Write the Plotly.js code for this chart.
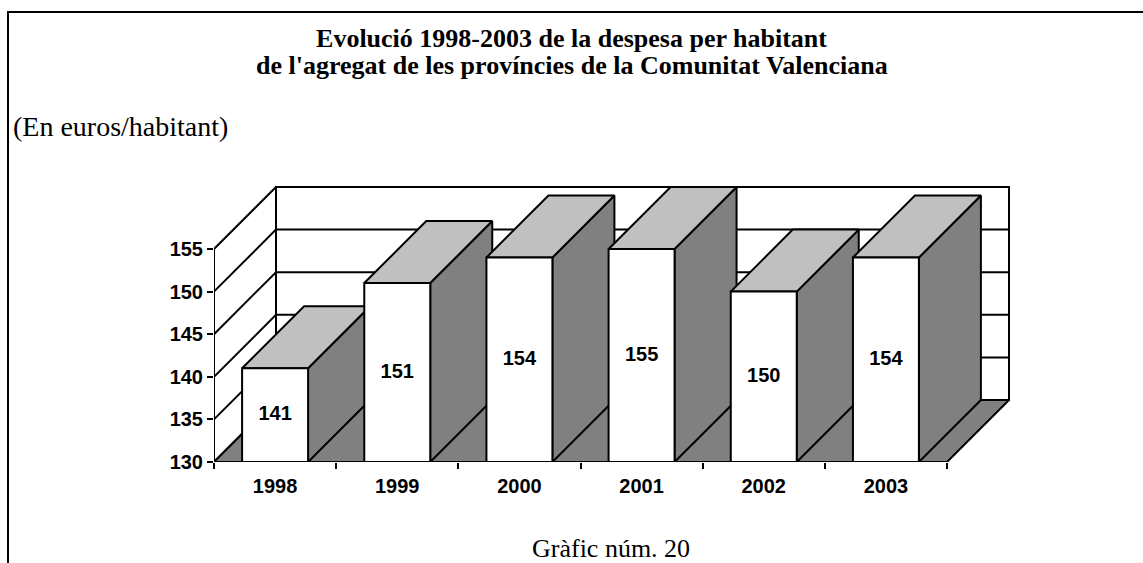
<!DOCTYPE html>
<html>
<head>
<meta charset="utf-8">
<script src="https://cdn.plot.ly/plotly-3.0.1.min.js"></script>
<style>
  html, body { margin: 0; padding: 0; background: #fff; }
  #wrap { position: relative; width: 1143px; height: 563px; overflow: hidden; }
  #chart { position: absolute; left: 0; top: 0; width: 1143px; height: 563px; }
  #frame { position: absolute; left: 7px; top: 11px; width: 1200px; height: 700px;
           border-top: 2px solid #000; border-left: 2px solid #000; pointer-events: none; }
</style>
</head>
<body>
<div id="wrap"><div id="chart"></div><div id="frame"></div></div>
<script>
// ---- data ----
const years = ['1998', '1999', '2000', '2001', '2002', '2003'];
const values = [141, 151, 154, 155, 150, 154];
const yTicks = [130, 135, 140, 145, 150, 155];
const titleLine1 = "Evolució 1998-2003 de la despesa per habitant";
const titleLine2 = "de l'agregat de les províncies de la Comunitat Valenciana";
const unitText = "(En euros/habitant)";
const footText = "Gràfic núm. 20";

// ---- layout geometry ----
const W = 1143, H = 563;
const M = { l: 214, r: 133, t: 185, b: 101 };
const plotW = W - M.l - M.r, plotH = H - M.t - M.b;
const pxPerCat = 733 / years.length;
const yMin = yTicks[0], yTop = yTicks[yTicks.length - 1];
const pxPerUnit = 213 / (yTop - yMin);
const xRange = [-0.5, -0.5 + plotW / pxPerCat];
const yRange = [yMin, yMin + plotH / pxPerUnit];
const depthPx = 62;
const dx = depthPx / pxPerCat, dy = depthPx / pxPerUnit;
const bw = 0.54, hw = bw / 2;
const xL = -0.5, xR = years.length - 0.5;

const SIDE = '#808080', TOP = '#c0c0c0', FRONT = '#ffffff';
const LINE = { color: '#000', width: 2 };

function poly(xs, ys, fill) {
  return { type: 'scatter', mode: 'lines', x: xs.concat([xs[0]]), y: ys.concat([ys[0]]),
           fill: 'toself', fillcolor: fill, line: LINE, cliponaxis: false,
           hoverinfo: 'skip', showlegend: false, xaxis: 'x', yaxis: 'y' };
}

const traces = [];
// left wall
traces.push(poly([xL, xL, xL + dx, xL + dx], [yMin, yTop, yTop + dy, yMin + dy], '#fff'));
// back wall
traces.push(poly([xL + dx, xL + dx, xR + dx, xR + dx], [yMin + dy, yTop + dy, yTop + dy, yMin + dy], '#fff'));
// gridlines
const gx = [], gy = [];
yTicks.slice(1, -1).forEach(L => {
  gx.push(xL, xL + dx, xR + dx, null);
  gy.push(L, L + dy, L + dy, null);
});
traces.push({ type: 'scatter', mode: 'lines', x: gx, y: gy, line: LINE, cliponaxis: false,
              hoverinfo: 'skip', showlegend: false, connectgaps: false });
// floor
traces.push(poly([xL, xR, xR + dx, xL + dx], [yMin, yMin, yMin + dy, yMin + dy], SIDE));

// bars: side, top, front for each
values.forEach((v, i) => {
  const a = i - hw, b = i + hw;
  traces.push(poly([b, b, b + dx, b + dx], [yMin, v, v + dy, yMin + dy], SIDE));
  traces.push(poly([a, b, b + dx, a + dx], [v, v, v + dy, v + dy], TOP));
  traces.push(poly([a, a, b, b], [yMin, v, v, yMin], FRONT));
});

// value labels
traces.push({ type: 'scatter', mode: 'text', x: years.map((_, i) => i),
              y: values.map(v => (yMin + v) / 2), text: values.map(String),
              textposition: 'middle center', cliponaxis: false,
              textfont: { family: 'Arial, "Liberation Sans", sans-serif', size: 20, color: '#000', weight: 'bold' },
              hoverinfo: 'skip', showlegend: false });
// dummy trace for boundary-tick axis
traces.push({ type: 'scatter', mode: 'markers', x: [], y: [], xaxis: 'x2', yaxis: 'y', hoverinfo: 'skip', showlegend: false });

const sansFam = 'Arial, "Liberation Sans", sans-serif';
const serif = '"Times New Roman", "Liberation Serif", serif';
const titleFont = { family: serif, size: 26, color: '#000', weight: 'bold' };
const px2x = px => (px - M.l) / plotW;
const px2y = py => 1 - (py - M.t) / plotH;

const layout = {
  width: W, height: H,
  margin: M,
  paper_bgcolor: 'rgba(0,0,0,0)', plot_bgcolor: 'rgba(0,0,0,0)',
  showlegend: false, hovermode: false,
  title: { text: titleLine1, x: 0.5, xanchor: 'center', xref: 'container',
           y: 1 - 37.5 / H, yanchor: 'middle', yref: 'container', font: titleFont },
  xaxis: { range: xRange, tickmode: 'array', tickvals: years.map((_, i) => i), ticktext: years,
           ticks: 'outside', ticklen: 6, tickcolor: 'rgba(0,0,0,0)', showgrid: false, zeroline: false,
           showline: false, fixedrange: true,
           tickfont: { family: sansFam, size: 20, color: '#000', weight: 'bold' } },
  xaxis2: { range: xRange, overlaying: 'x', anchor: 'y', side: 'bottom', tickmode: 'array',
            tickvals: years.map((_, i) => i - 0.5).concat([xR]), ticks: 'outside', ticklen: 6,
            tickwidth: 2, tickcolor: '#000', showticklabels: false, showgrid: false,
            zeroline: false, showline: false, fixedrange: true },
  yaxis: { range: yRange, tickmode: 'array', tickvals: yTicks, ticks: 'outside', ticklen: 6,
           tickwidth: 2, tickcolor: '#000', showgrid: false, zeroline: false, showline: false,
           fixedrange: true, automargin: false,
           tickfont: { family: sansFam, size: 20, color: '#000', weight: 'bold' } },
  annotations: [
    { text: titleLine2, xref: 'paper', yref: 'paper', x: px2x(W / 2), y: px2y(65.5),
      xanchor: 'center', yanchor: 'middle', showarrow: false, font: titleFont },
    { text: unitText, xref: 'paper', yref: 'paper', x: px2x(11), y: px2y(127),
      xanchor: 'left', yanchor: 'middle', showarrow: false,
      font: { family: serif, size: 28, color: '#000' } },
    { text: footText, xref: 'paper', yref: 'paper', x: px2x(611), y: px2y(548),
      xanchor: 'center', yanchor: 'middle', showarrow: false,
      font: { family: serif, size: 26, color: '#000' } }
  ]
};

Plotly.newPlot('chart', traces, layout, { displayModeBar: false, staticPlot: true });
</script>
</body>
</html>
